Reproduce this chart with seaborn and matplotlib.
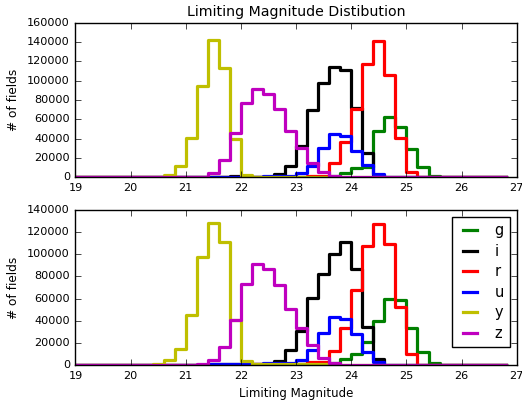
import numpy as np
import matplotlib
matplotlib.use("Agg")
import matplotlib.pyplot as plt
import seaborn as sns

plt.style.use("classic")
plt.rcParams["figure.facecolor"] = "white"
plt.rcParams["savefig.facecolor"] = "white"
plt.rcParams["font.family"] = ["DejaVu Sans"]

# bin edges: 19.0 .. 26.8 step 0.2 (39 bins)
bin_edges = [round(19.0 + 0.2 * k, 1) for k in range(40)]
bands = ["g", "i", "r", "u", "y", "z"]
band_colors = ["g", "k", "r", "b", "y", "m"]

g_top = [0, 0, 0, 0, 0, 0, 0, 0, 0, 0, 0, 0, 0, 0, 0, 0, 0, 0, 0, 0, 500, 500, 500, 1700, 4200, 9400, 11000, 47400, 62300, 52000, 29000, 10400, 1700, 0, 0, 0, 0, 0, 0]
i_top = [0, 0, 0, 0, 0, 0, 0, 0, 0, 0, 0, 0, 0, 500, 1500, 500, 500, 500, 3000, 11800, 31900, 70000, 98000, 114000, 111000, 71700, 24600, 2400, 0, 0, 0, 0, 0, 0, 0, 0, 0, 0, 0]
r_top = [0, 0, 0, 0, 0, 0, 0, 0, 0, 0, 0, 0, 0, 0, 0, 0, 700, 700, 700, 700, 700, 1700, 1700, 14500, 36000, 70600, 117000, 141000, 105600, 41000, 5200, 0, 0, 0, 0, 0, 0, 0, 0]
u_top = [0, 0, 0, 0, 0, 0, 0, 0, 0, 0, 0, 0, 500, 500, 500, 500, 500, 1000, 1000, 1000, 4800, 12000, 30000, 44700, 42600, 26700, 13000, 3500, 0, 0, 0, 0, 0, 0, 0, 0, 0, 0, 0]
y_top = [0, 0, 0, 0, 0, 0, 0, 300, 2500, 12000, 40500, 94000, 142000, 113000, 39500, 2000, 500, 500, 500, 500, 500, 500, 500, 300, 0, 0, 0, 0, 0, 0, 0, 0, 0, 0, 0, 0, 0, 0, 0]
z_top = [0, 0, 0, 0, 0, 0, 0, 0, 0, 0, 200, 600, 4500, 17700, 46000, 76500, 91800, 86600, 70600, 48000, 30000, 14900, 5200, 1000, 300, 0, 0, 0, 0, 0, 0, 0, 0, 0, 0, 0, 0, 0, 0]

g_bot = [0, 0, 0, 0, 0, 0, 0, 0, 0, 0, 0, 0, 0, 0, 0, 0, 0, 0, 0, 0, 500, 500, 500, 1500, 5000, 9600, 21000, 40000, 59300, 58700, 33700, 12000, 1800, 0, 0, 0, 0, 0, 0]
i_bot = [0, 0, 0, 0, 0, 0, 0, 0, 0, 0, 0, 0, 500, 500, 1000, 500, 500, 500, 3600, 13500, 30400, 60800, 82500, 100000, 111000, 86700, 34000, 5000, 0, 0, 0, 0, 0, 0, 0, 0, 0, 0, 0]
r_bot = [0, 0, 0, 0, 0, 0, 0, 0, 0, 0, 0, 0, 0, 0, 0, 0, 1000, 1000, 1000, 1000, 1000, 2400, 2400, 13000, 33700, 67800, 107800, 127000, 109000, 52700, 10200, 0, 0, 0, 0, 0, 0, 0, 0]
u_bot = [0, 0, 0, 0, 0, 0, 0, 0, 0, 0, 0, 0, 1000, 1000, 1000, 1000, 1000, 1500, 1500, 1500, 4500, 13500, 29000, 43400, 41900, 27700, 12000, 3000, 0, 0, 0, 0, 0, 0, 0, 0, 0, 0, 0]
y_bot = [0, 0, 0, 0, 0, 0, 0, 1000, 4500, 14500, 44900, 97300, 128300, 111000, 40700, 3900, 1000, 1000, 1000, 1000, 1000, 1000, 1000, 0, 0, 0, 0, 0, 0, 0, 0, 0, 0, 0, 0, 0, 0, 0, 0]
z_bot = [0, 0, 0, 0, 0, 0, 0, 0, 0, 0, 0, 500, 4200, 16000, 40400, 73500, 91600, 86700, 72300, 51000, 33400, 18000, 6000, 1500, 0, 0, 0, 0, 0, 0, 0, 0, 0, 0, 0, 0, 0, 0, 0]

x_ticks = [19, 20, 21, 22, 23, 24, 25, 26, 27]
top_yticks = [0, 20000, 40000, 60000, 80000, 100000, 120000, 140000, 160000]
bot_yticks = [0, 20000, 40000, 60000, 80000, 100000, 120000, 140000]

centers = [(bin_edges[k] + bin_edges[k + 1]) / 2 for k in range(len(bin_edges) - 1)]
top_data = [g_top, i_top, r_top, u_top, y_top, z_top]
bot_data = [g_bot, i_bot, r_bot, u_bot, y_bot, z_bot]

fig = plt.figure(figsize=(5.22, 4.0), dpi=100)
ax1 = fig.add_axes([0.1446, 0.557, 0.8454, 0.386])
ax2 = fig.add_axes([0.1446, 0.0875, 0.8454, 0.3875])

for ax, data, yt in [(ax1, top_data, top_yticks), (ax2, bot_data, bot_yticks)]:
    for band, col, vals in zip(bands, band_colors, data):
        sns.histplot(x=centers, weights=vals, bins=bin_edges, element="step",
                     fill=False, color=col, linewidth=2.3, label=band, ax=ax)
    ax.set_xlim(19, 27)
    ax.set_ylim(yt[0], yt[-1])
    ax.set_xticks(x_ticks)
    ax.set_yticks(yt)
    ax.set_ylabel("# of fields", fontsize=8.7)
    ax.set_xlabel("")
    ax.tick_params(labelsize=8.1)

ax1.set_title("Limiting Magnitude Distibution", fontsize=10.2)
ax2.set_xlabel("Limiting Magnitude", fontsize=8.5)
ax2.legend(loc="upper right", fontsize=10.5, handlelength=1.55, labelspacing=0.38,
           borderpad=0.45, handletextpad=0.9, borderaxespad=0.45)

fig.savefig("out.png", dpi=100)
